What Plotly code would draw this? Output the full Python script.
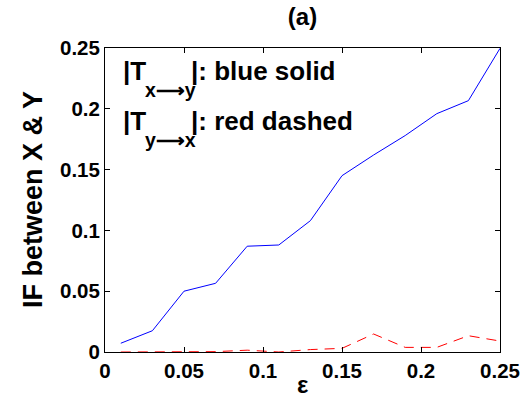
import plotly.graph_objects as go

eps = [0.01, 0.03, 0.05, 0.07, 0.09, 0.11, 0.13, 0.15, 0.17, 0.19, 0.21, 0.23, 0.25]
t_xy = [0.0072, 0.0175, 0.050, 0.0565, 0.087, 0.088, 0.108, 0.145, 0.162, 0.178, 0.196, 0.2067, 0.2497]
t_yx = [0.0, 0.0, 0.0002, 0.0003, 0.0015, 0.0, 0.002, 0.003, 0.0148, 0.0038, 0.0038, 0.0134, 0.009]
xticks = [0, 0.05, 0.1, 0.15, 0.2, 0.25]
xtick_labels = ["0", "0.05", "0.1", "0.15", "0.2", "0.25"]
yticks = [0, 0.05, 0.1, 0.15, 0.2, 0.25]
ytick_labels = ["0", "0.05", "0.1", "0.15", "0.2", "0.25"]

FONT = "Liberation Sans, Arial, sans-serif"

fig = go.Figure()
fig.add_trace(go.Scatter(x=eps, y=t_xy, mode="lines",
                         line=dict(color="#0000ff", width=1), showlegend=False))
fig.add_trace(go.Scatter(x=eps, y=t_yx, mode="lines",
                         line=dict(color="#ff0000", width=1, dash="10px,7px"), showlegend=False))

axis_common = dict(showline=True, linecolor="black", linewidth=1, mirror="ticks",
                   ticks="inside", ticklen=5, tickcolor="black", showgrid=False,
                   zeroline=False, automargin=False,
                   tickfont=dict(family=FONT, size=20.5, color="black", weight="bold"))

fig.update_xaxes(range=[0, 0.25], tickvals=xticks, ticktext=xtick_labels, **axis_common)
fig.update_yaxes(range=[0, 0.25], tickvals=yticks, ticktext=ytick_labels, **axis_common)


def txt(text, size, xshift, yshift, **kw):
    fig.add_annotation(x=0, y=1, xref="paper", yref="paper", xanchor="left", yanchor="bottom",
                       xshift=xshift, yshift=yshift, showarrow=False, align="left",
                       text=text, font=dict(family=FONT, size=size, color="black", weight="bold"), **kw)


# legend-like text block (main size 26, subscript 19.5)
txt("|T", 26, 16, -40)
txt("x⟶y", 19.5, 38, -55)
txt("|: blue solid", 26, 84, -40)
txt("|T", 26, 16, -90)
txt("y⟶x", 19.5, 38, -105)
txt("|: red dashed", 26, 84, -90)

# axis titles
fig.add_annotation(x=0.5, y=0, xref="paper", yref="paper", xanchor="center", yanchor="top",
                   yshift=-17, showarrow=False, text="ε",
                   font=dict(family=FONT, size=24, color="black", weight="bold"))
fig.add_annotation(x=0, y=0.5, xref="paper", yref="paper", xanchor="center", yanchor="middle",
                   xshift=-72, showarrow=False, text="IF between X & Y", textangle=-90,
                   font=dict(family=FONT, size=27, color="black", weight="bold"))

fig.update_layout(
    width=520, height=408,
    margin=dict(l=105, r=20, t=48, b=56),
    paper_bgcolor="white", plot_bgcolor="white",
    title=dict(text="(a)", x=0.5, xref="paper", xanchor="center", y=0.96, yref="container",
               yanchor="middle",
               font=dict(family=FONT, size=24, color="black", weight="bold")),
)

fig.write_html("out.html", config={"displayModeBar": False},
               post_script="document.body.style.margin='0';")
